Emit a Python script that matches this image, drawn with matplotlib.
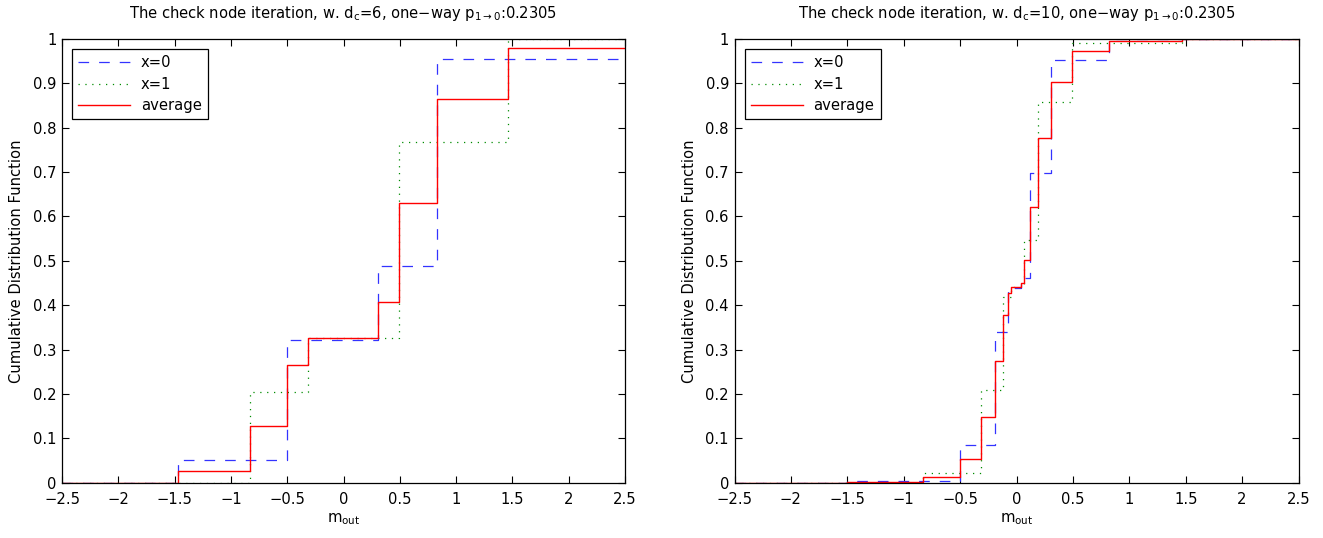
import numpy as np
import matplotlib
matplotlib.use('Agg')
import matplotlib.pyplot as plt

plt.rcParams['font.family'] = ['DejaVu Sans']
plt.rcParams['mathtext.fontset'] = 'dejavusans'
plt.rcParams['font.size'] = 10.6

# ---- data (step edges on m_out, CDF levels) ----
# d_c = 6
L_x0_edges = [-2.5, -1.47, -0.50, 0.306, 0.826, 2.5]
L_x0_cdf   = [0.0, 0.051, 0.322, 0.488, 0.956, 0.956]
L_x1_edges = [-2.5, -0.83, -0.311, 0.496, 1.465, 2.5]
L_x1_cdf   = [0.0, 0.205, 0.327, 0.768, 1.0, 1.0]
L_avg_edges = [-2.5, -1.47, -0.83, -0.50, -0.311, 0.306, 0.496, 0.826, 1.465, 2.5]
L_avg_cdf   = [0.0, 0.026, 0.128, 0.265, 0.325, 0.407, 0.631, 0.865, 0.979, 0.979]

# d_c = 10
R_x0_edges = [-2.5, -1.5, -0.50, -0.19, -0.078, 0.043, 0.12, 0.306, 0.823, 2.5]
R_x0_cdf   = [0.0, 0.004, 0.085, 0.340, 0.439, 0.461, 0.697, 0.953, 1.0, 1.0]
R_x1_edges = [-2.5, -0.83, -0.311, -0.122, -0.052, 0.069, 0.188, 0.495, 1.468, 2.5]
R_x1_cdf   = [0.0, 0.021, 0.209, 0.418, 0.440, 0.547, 0.857, 0.992, 1.0, 1.0]
R_avg_edges = [-2.5, -1.5, -0.83, -0.50, -0.311, -0.19, -0.122, -0.078, -0.052,
               0.043, 0.069, 0.12, 0.188, 0.306, 0.495, 0.823, 1.468, 2.5]
R_avg_cdf   = [0.0, 0.002, 0.012, 0.053, 0.147, 0.274, 0.379, 0.428, 0.440,
               0.449, 0.503, 0.622, 0.778, 0.904, 0.973, 0.995, 1.0, 1.0]

panels = [
    ('6', (L_x0_edges, L_x0_cdf), (L_x1_edges, L_x1_cdf), (L_avg_edges, L_avg_cdf)),
    ('10', (R_x0_edges, R_x0_cdf), (R_x1_edges, R_x1_cdf), (R_avg_edges, R_avg_cdf)),
]

W, H = 1323, 538
fig = plt.figure(figsize=(W / 100, H / 100), dpi=100)
rects = [[62 / W, 55.3 / H, 563 / W, 443.7 / H],
         [734.5 / W, 55.3 / H, 564 / W, 443.7 / H]]

for rect, (dc, s0, s1, sa) in zip(rects, panels):
    ax = fig.add_axes(rect)
    ax.step(s0[0], s0[1], where='post', color=(0.2, 0.2, 1), lw=0.9,
            linestyle=(0, (8.5, 8)), label='x=0')
    ax.step(s1[0], s1[1], where='post', color=(0, 0.55, 0), lw=0.9,
            linestyle=(0, (1, 4.5)), label='x=1')
    ax.step(sa[0], sa[1], where='post', color='red', lw=1.0, label='average')

    ax.set_xlim(-2.5, 2.5)
    ax.set_ylim(0, 1)
    ax.set_xticks(np.arange(-2.5, 2.51, 0.5))
    ax.set_yticks(np.arange(0, 1.01, 0.1))
    ax.set_xticklabels(['\u22122.5', '\u22122', '\u22121.5', '\u22121', '\u22120.5',
                        '0', '0.5', '1', '1.5', '2', '2.5'])
    ax.set_yticklabels(['0', '0.1', '0.2', '0.3', '0.4', '0.5', '0.6', '0.7',
                        '0.8', '0.9', '1'])
    ax.tick_params(direction='in', top=True, right=True, length=5, width=0.8,
                   labelsize=10.6)
    ax.tick_params(axis='x', pad=7)
    ax.tick_params(axis='y', pad=4)
    for sp in ax.spines.values():
        sp.set_linewidth(0.9)

    ax.set_title('The check node iteration, w. d$_{\\mathregular{c}}$=' + dc +
                 ', one\u2212way p$_{\\mathregular{1\\rightarrow 0}}$:0.2305',
                 fontsize=10.6, pad=15)
    ax.set_xlabel('m$_{\\mathregular{out}}$', labelpad=3)
    ax.set_ylabel('Cumulative Distribution Function', labelpad=6)

    leg = ax.legend(loc='upper left', fancybox=False, framealpha=1,
                    edgecolor='black', handlelength=3.5, handletextpad=0.75,
                    labelspacing=0.42, borderpad=0.42, borderaxespad=0.7,
                    fontsize=10.6)
    leg.get_frame().set_linewidth(0.9)

fig.savefig('out.png', dpi=100)
